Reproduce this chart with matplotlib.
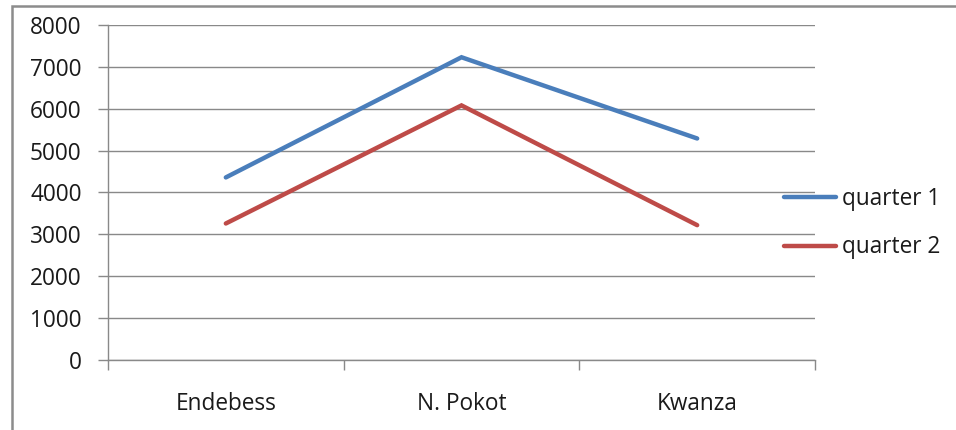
import matplotlib
matplotlib.use("Agg")
import matplotlib.pyplot as plt
from matplotlib.patches import Rectangle
from matplotlib.ticker import FixedLocator

# sales per location, two quarters
locations = ["Endebess", "N. Pokot", "Kwanza"]
quarter_1 = [4360, 7230, 5290]
quarter_2 = [3260, 6080, 3220]
series_names = ["quarter 1", "quarter 2"]
y_ticks = [0, 1000, 2000, 3000, 4000, 5000, 6000, 7000, 8000]

plt.rcParams["font.family"] = ["Open Sans", "DejaVu Sans"]
grid_color = "#898989"
text_color = "#1a1a1a"
font_size = 16.3

fig = plt.figure(figsize=(9.56, 4.30), dpi=100, facecolor="white")
ax = fig.add_axes([108 / 956, 70 / 430, 707 / 956, 335 / 430])

x = list(range(len(locations)))
ax.plot(x, quarter_1, color="#4a7ebb", lw=3.2, solid_capstyle="round",
        solid_joinstyle="miter", label=series_names[0], zorder=3)
ax.plot(x, quarter_2, color="#be4b48", lw=3.2, solid_capstyle="round",
        solid_joinstyle="miter", label=series_names[1], zorder=3)

ax.set_xlim(-0.5, len(locations) - 0.5)
ax.set_ylim(0, 8000)
ax.set_yticks(y_ticks)
ax.set_yticklabels([str(v) for v in y_ticks])
ax.yaxis.grid(True, color=grid_color, lw=1.0)
ax.set_axisbelow(True)

# categories centred between boundary tick marks
ax.set_xticks(x)
ax.set_xticklabels(locations)
ax.xaxis.set_minor_locator(FixedLocator([i - 0.5 for i in range(len(locations) + 1)]))
ax.tick_params(axis="x", which="major", length=0, pad=23, labelsize=font_size, colors=text_color)
ax.tick_params(axis="x", which="minor", length=7, width=1.0, color=grid_color, direction="out")
ax.tick_params(axis="y", length=7, width=1.0, color=grid_color, pad=12,
               labelsize=font_size, labelcolor=text_color)

for side in ("top", "right"):
    ax.spines[side].set_visible(False)
for side in ("left", "bottom"):
    ax.spines[side].set_color(grid_color)
    ax.spines[side].set_linewidth(1.0)

fig.legend(loc="center left", bbox_to_anchor=(775 / 956, 1 - 223 / 430),
           frameon=False, fontsize=font_size, handlelength=2.3, handletextpad=0.25,
           labelspacing=1.1, labelcolor=text_color, borderaxespad=0)

# outer chart frame
fig.patches.append(Rectangle((12 / 956, -0.05), 1.1, 1 - 6 / 430 + 0.05,
                             transform=fig.transFigure, fill=False,
                             edgecolor="#8c8c8c", lw=1.8))

fig.savefig("out.png", dpi=100, facecolor="white")
